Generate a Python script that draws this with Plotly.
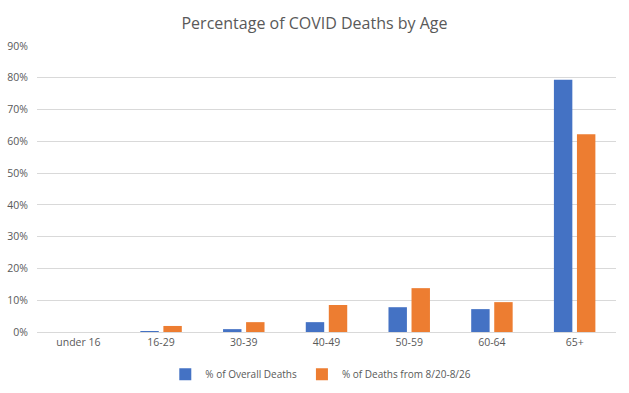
import plotly.graph_objects as go

categories = ["under 16", "16-29", "30-39", "40-49", "50-59", "60-64", "65+"]
overall = [0.0, 0.003, 0.009, 0.031, 0.078, 0.072, 0.794]
recent = [0.0, 0.019, 0.031, 0.085, 0.138, 0.094, 0.622]
series_names = ["% of Overall Deaths", "% of Deaths from 8/20-8/26"]
tick_vals = [0, 0.1, 0.2, 0.3, 0.4, 0.5, 0.6, 0.7, 0.8, 0.9]

FONT = "Open Sans"
TXT = "#595959"

fig = go.Figure()
fig.add_trace(go.Bar(x=categories, y=overall, name=series_names[0],
                     marker=dict(color="#4472C4", line=dict(width=0))))
fig.add_trace(go.Bar(x=categories, y=recent, name=series_names[1],
                     marker=dict(color="#ED7D31", line=dict(width=0))))

fig.update_layout(
    width=629, height=393,
    margin=dict(l=37, r=13, t=46, b=61),
    paper_bgcolor="white", plot_bgcolor="white",
    barmode="group", bargap=0.443, bargroupgap=0.2,
    title=dict(text="Percentage of COVID Deaths by Age", x=0.5, xref="container",
               xanchor="center", y=0.94, yanchor="middle", yref="container",
               font=dict(family=FONT, size=16, color=TXT)),
    font=dict(family=FONT, size=10, color=TXT),
    legend=dict(orientation="h", xref="container", x=0.51, xanchor="center",
                yref="container", y=0.048, yanchor="middle",
                font=dict(family=FONT, size=10, color=TXT),
                itemwidth=30, traceorder="normal"),
    xaxis=dict(showgrid=False, showline=True, linecolor="#d9d9d9", linewidth=1,
               ticks="", automargin=False,
               tickfont=dict(family=FONT, size=10.5, color=TXT)),
    yaxis=dict(range=[0, 0.9], tickvals=tick_vals, tickformat=".0%",
               showgrid=True, gridcolor="#d9d9d9", gridwidth=1,
               zeroline=False, showline=False, ticks="", automargin=False,
               tickfont=dict(family=FONT, size=10.5, color=TXT), ticklabelstandoff=8),
)

fig.write_html("out.html", config={"displayModeBar": False},
               post_script="document.body.style.margin='0';")
